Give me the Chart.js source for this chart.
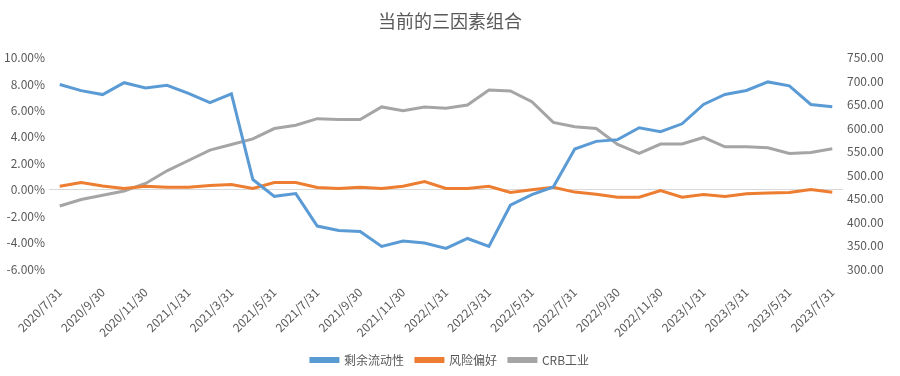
<!DOCTYPE html>
<html>
<head>
<meta charset="utf-8">
<script src="https://cdn.jsdelivr.net/npm/chart.js@4/dist/chart.umd.min.js"></script>
<style>
  html, body { margin: 0; padding: 0; background: #fff; }
  #wrap { width: 900px; height: 376px; }
</style>
</head>
<body>
<div id="wrap"><canvas id="myChart" width="900" height="376"></canvas></div>
<script>
// month-end dates, 2020/7/31 .. 2023/7/31
const dates = [
  '2020/7/31','2020/8/31','2020/9/30','2020/10/31','2020/11/30','2020/12/31',
  '2021/1/31','2021/2/28','2021/3/31','2021/4/30','2021/5/31','2021/6/30',
  '2021/7/31','2021/8/31','2021/9/30','2021/10/31','2021/11/30','2021/12/31',
  '2022/1/31','2022/2/28','2022/3/31','2022/4/30','2022/5/31','2022/6/30',
  '2022/7/31','2022/8/31','2022/9/30','2022/10/31','2022/11/30','2022/12/31',
  '2023/1/31','2023/2/28','2023/3/31','2023/4/30','2023/5/31','2023/6/30',
  '2023/7/31'
]

// 剩余流动性 (%)
const liquidity = [
  7.96, 7.5, 7.2, 8.1, 7.7, 7.9, 7.3, 6.6, 7.26, 0.77, -0.5, -0.29,
  -2.75, -3.08, -3.16, -4.29, -3.89, -4.04, -4.44, -3.69, -4.29, -1.17, -0.37, 0.21,
  3.08, 3.66, 3.79, 4.69, 4.39, 4.99, 6.45, 7.21, 7.51, 8.16, 7.86, 6.45,
  6.28
]

// 风险偏好 (%)
const riskAppetite = [
  0.26, 0.54, 0.29, 0.09, 0.26, 0.19, 0.19, 0.32, 0.39, 0.09, 0.54, 0.54,
  0.17, 0.09, 0.19, 0.09, 0.26, 0.62, 0.09, 0.09, 0.26, -0.21, -0.01, 0.19,
  -0.18, -0.34, -0.57, -0.57, -0.06, -0.57, -0.36, -0.51, -0.31, -0.24, -0.21, 0.01,
  -0.19
]

// CRB工业 (right axis)
const crb = [
  434, 448, 457, 466, 482, 509, 531, 553, 565, 577, 599, 606,
  620, 618, 618, 645, 637, 645, 642, 649, 681, 679, 656, 612,
  603, 599, 565, 546, 566, 566, 580, 560, 560, 558, 546, 548,
  556
]

const leftTicks = { min: -6, max: 10, step: 2 }
const rightTicks = { min: 300, max: 750, step: 50 }

const grey = '#595959'
const baseFont = { family: "'Noto Sans CJK SC', 'Noto Sans', sans-serif", size: 12 }

const data = {
  labels: dates,
  datasets: [
    { label: '剩余流动性', data: liquidity, borderColor: '#5B9BD5', backgroundColor: '#5B9BD5', yAxisID: 'y' },
    { label: '风险偏好', data: riskAppetite, borderColor: '#ED7D31', backgroundColor: '#ED7D31', yAxisID: 'y' },
    { label: 'CRB工业', data: crb, borderColor: '#A5A5A5', backgroundColor: '#A5A5A5', yAxisID: 'y1' }
  ]
}

const config = {
  type: 'line',
  data: data,
  options: {
    responsive: false,
    animation: false,
    layout: { padding: { left: 0, right: 0, top: 0, bottom: 0 } },
    elements: {
      line: { borderWidth: 3, tension: 0 },
      point: { radius: 0 }
    },
    plugins: {
      title: {
        display: true,
        text: '当前的三因素组合',
        color: grey,
        font: { family: baseFont.family, size: 18, weight: 'normal' },
        padding: { top: 10, bottom: 26 }
      },
      legend: {
        position: 'bottom',
        labels: {
          color: grey,
          font: baseFont,
          boxWidth: 27,
          boxHeight: 3,
          padding: 12
        }
      },
      tooltip: { enabled: false }
    },
    scales: {
      x: {
        offset: true,
        grid: { display: false },
        border: { display: false },
        afterFit: s => { s.height = 73 },
        ticks: {
          color: grey,
          font: baseFont,
          autoSkip: false,
          minRotation: 45,
          maxRotation: 45,
          padding: 8,
          callback: function (v, i) { return i % 2 === 0 ? dates[i] : '' }
        }
      },
      y: {
        position: 'left',
        min: leftTicks.min,
        max: leftTicks.max,
        border: { display: false },
        afterFit: s => { s.width = 49 },
        grid: {
          drawTicks: false,
          color: ctx => (ctx.tick && ctx.tick.value === 0 ? '#D9D9D9' : 'rgba(0,0,0,0)')
        },
        ticks: {
          stepSize: leftTicks.step,
          color: grey,
          font: baseFont,
          padding: 4,
          callback: v => v.toFixed(2) + '%'
        }
      },
      y1: {
        position: 'right',
        min: rightTicks.min,
        max: rightTicks.max,
        border: { display: false },
        afterFit: s => { s.width = 57 },
        grid: { display: false, drawTicks: false },
        ticks: {
          stepSize: rightTicks.step,
          color: grey,
          font: baseFont,
          padding: 4,
          callback: v => v.toFixed(2)
        }
      }
    }
  }
}

const myChart = new Chart(document.getElementById('myChart'), config)
</script>
</body>
</html>
